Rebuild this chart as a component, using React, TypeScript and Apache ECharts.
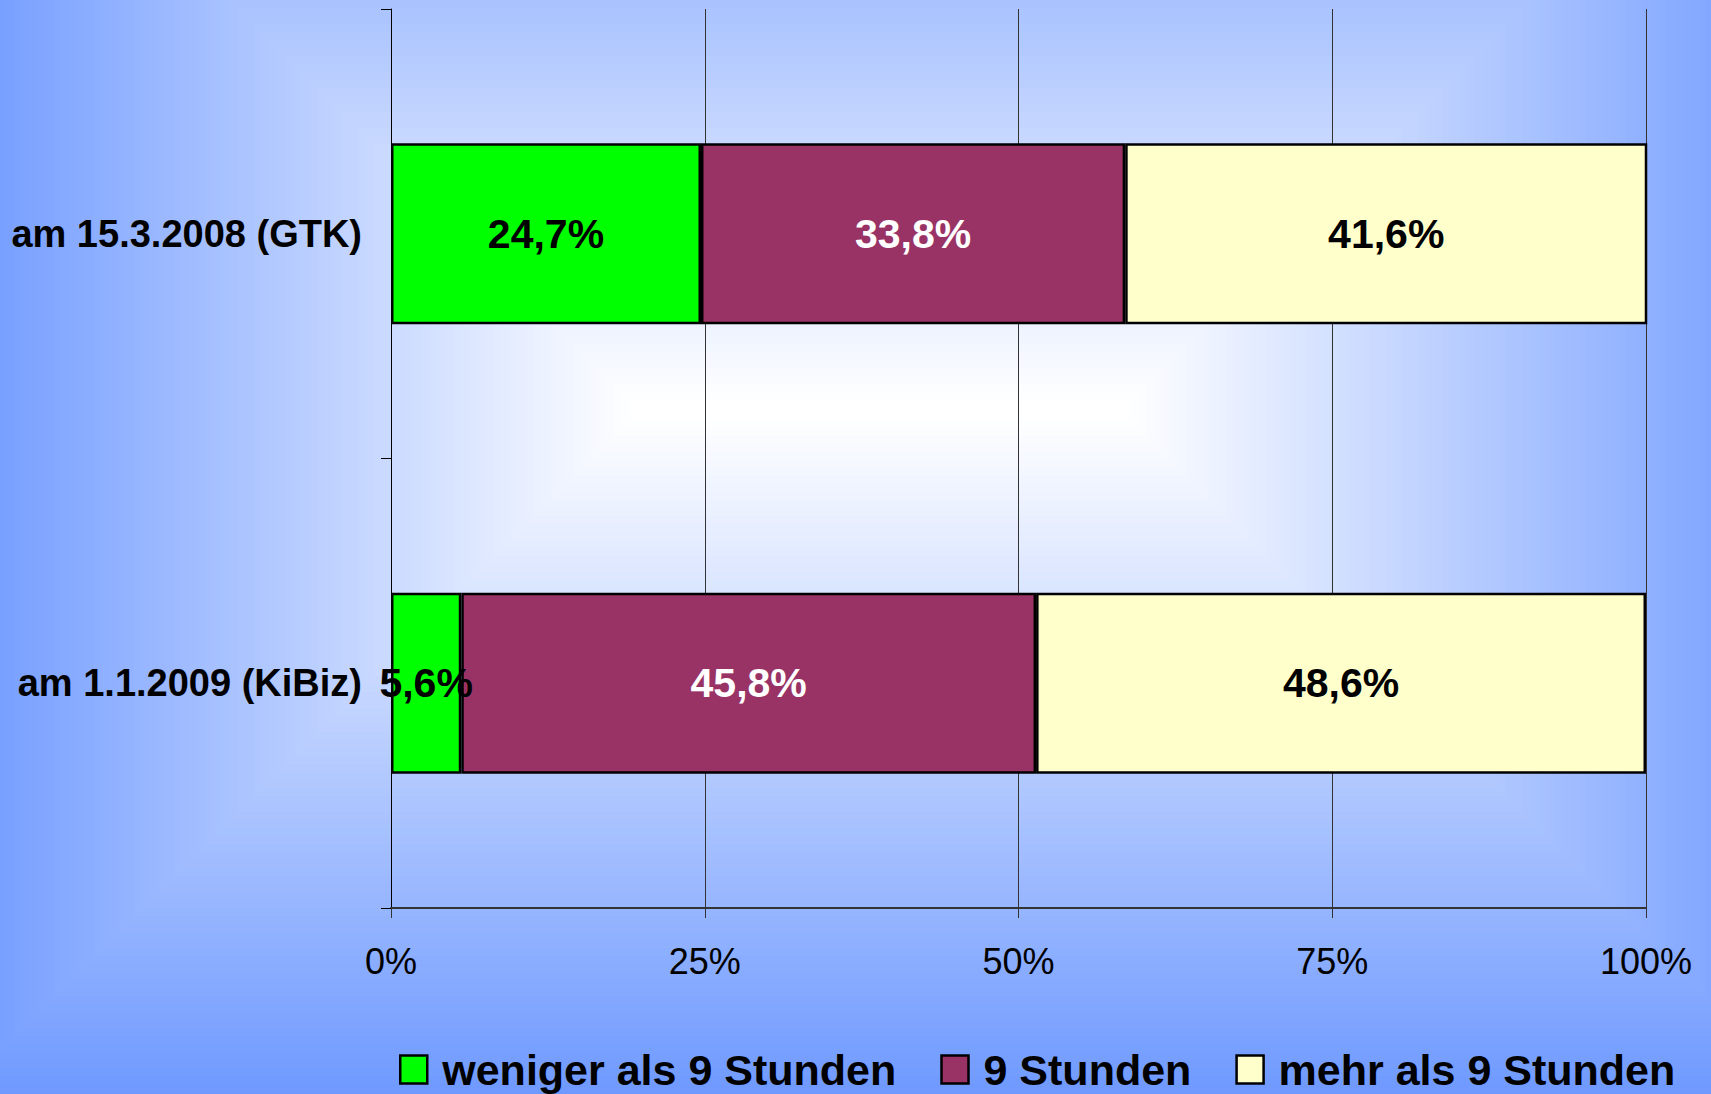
import React, { useEffect, useRef } from "react";
import * as echarts from "echarts";

const categories = ["am 15.3.2008 (GTK)", "am 1.1.2009 (KiBiz)"];
const seriesNames = ["weniger als 9 Stunden", "9 Stunden", "mehr als 9 Stunden"];
const lessThan9 = [24.7, 5.6];
const exactly9 = [33.8, 45.8];
const moreThan9 = [41.6, 48.6];
const xTicks = [0, 25, 50, 75, 100];

const seriesValues = [lessThan9, exactly9, moreThan9];
const seriesColors = ["#00ff00", "#993366", "#ffffcc"];
const labelColors = ["#000000", "#ffffff", "#000000"];

const W = 1711;
const H = 1094;
const FONT = "'Liberation Sans', Arial, Helvetica, sans-serif";

function bgRects() {
  const x0 = 630, x1 = 1130, y0 = 400, y1 = 420;
  const blue = [106, 150, 255];
  const els: any[] = [];
  for (let d = 688; d >= 0; d -= 8) {
    const s = Math.min(1, d / 700);
    const r = Math.round(255 - s * (255 - blue[0]));
    const g = Math.round(255 - s * (255 - blue[1]));
    const b = Math.round(255 - s * (255 - blue[2]));
    els.push({
      type: "rect",
      silent: true,
      z: -1,
      shape: { x: x0 - d, y: y0 - d, width: x1 - x0 + 2 * d, height: y1 - y0 + 2 * d },
      style: { fill: `rgb(${r},${g},${b})` },
    });
  }
  return els;
}

export default function App() {
  const ref = useRef<HTMLDivElement>(null);
  useEffect(() => {
    document.body.style.margin = "0";
    const chart = echarts.init(ref.current!, null, { renderer: "svg" });
    chart.setOption({
      animation: false,
      backgroundColor: "#7aa0ff",
      graphic: { elements: bgRects() },
      grid: { left: 391, right: W - 1646, top: 9, bottom: H - 908, containLabel: false },
      legend: {
        data: seriesNames,
        left: 399,
        top: 1048,
        padding: 0,
        itemGap: 44,
        itemWidth: 27,
        itemHeight: 28,
        icon: "rect",
        itemStyle: { borderColor: "#000", borderWidth: 2.5 },
        textStyle: {
          fontSize: 43,
          fontWeight: "bold",
          color: "#000",
          fontFamily: FONT,
          padding: [0, 0, 0, 10],
        },
      },
      xAxis: {
        type: "value",
        min: xTicks[0],
        max: xTicks[xTicks.length - 1],
        interval: xTicks[1] - xTicks[0],
        axisLine: { show: true, lineStyle: { color: "#333", width: 2 } },
        axisTick: { show: true, length: 10, lineStyle: { color: "#333", width: 1 } },
        splitLine: { show: true, lineStyle: { color: "#333", width: 1 } },
        axisLabel: {
          margin: 35,
          fontSize: 36,
          color: "#000",
          fontFamily: FONT,
          formatter: (v: number) => `${v}%`,
        },
      },
      yAxis: {
        type: "category",
        data: categories,
        inverse: true,
        axisLine: { show: true, lineStyle: { color: "#000", width: 1 } },
        axisTick: { show: true, length: 10, lineStyle: { color: "#000", width: 1 } },
        axisLabel: {
          margin: 29,
          fontSize: 38,
          fontWeight: "bold",
          color: "#000",
          fontFamily: FONT,
        },
      },
      series: seriesNames.map((name, i) => ({
        name,
        type: "bar",
        stack: "total",
        barWidth: 181,
        data: seriesValues[i],
        itemStyle: { color: seriesColors[i], borderColor: "#000", borderWidth: 2.5 },
        label: {
          show: true,
          position: "inside",
          fontSize: 41,
          fontWeight: "bold",
          color: labelColors[i],
          fontFamily: FONT,
          formatter: (p: any) => `${Number(p.value).toFixed(1).replace(".", ",")}%`,
        },
      })),
    });
    return () => chart.dispose();
  }, []);
  return <div ref={ref} style={{ width: W, height: H, position: "absolute", left: 0, top: 0 }} />;
}
